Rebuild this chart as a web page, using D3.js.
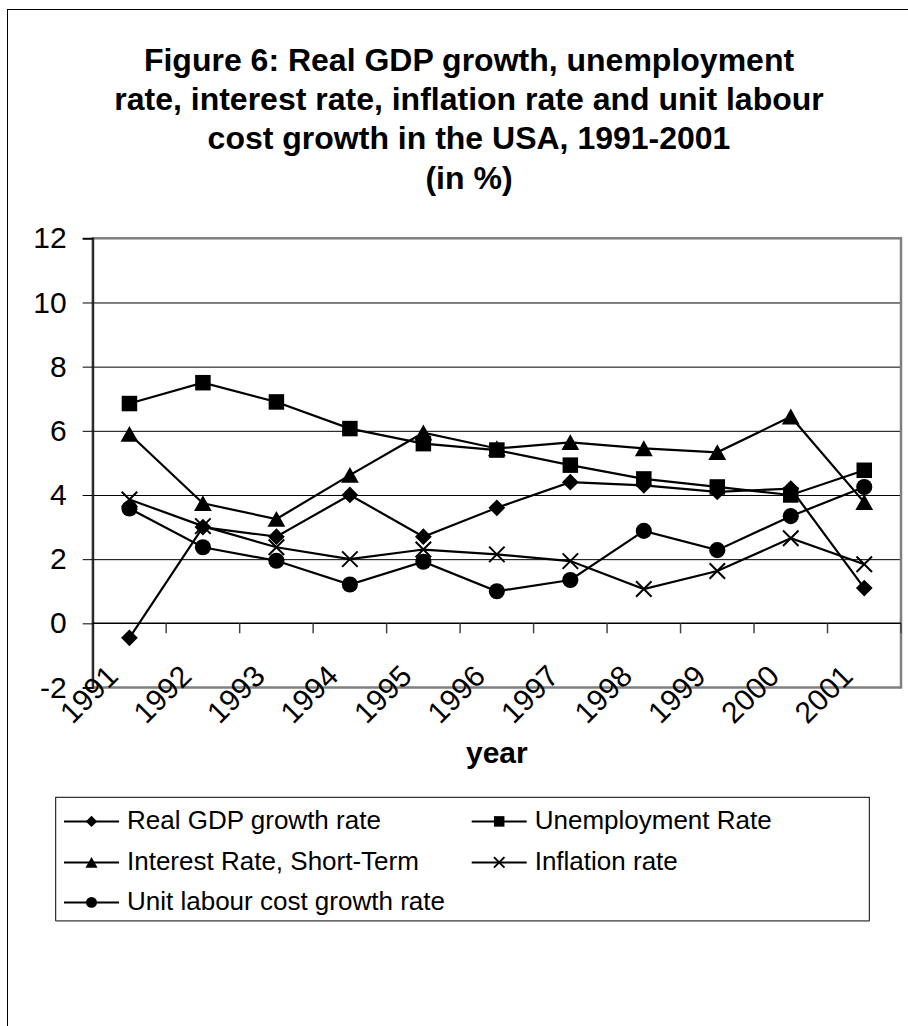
<!DOCTYPE html>
<html><head><meta charset="utf-8">
<script src="https://cdn.jsdelivr.net/npm/d3@7"></script>
<style>
html,body{margin:0;padding:0;background:#fff;}
svg{display:block;font-family:"Liberation Sans",Arial,sans-serif;}
</style></head>
<body>
<svg id="chart" width="908" height="1026"></svg>
<script>
const years = ["1991","1992","1993","1994","1995","1996","1997","1998","1999","2000","2001"];
const gdpGrowth = [-0.45, 3.0, 2.7, 4.0, 2.7, 3.6, 4.4, 4.3, 4.1, 4.2, 1.1];
const unemployment = [6.85, 7.5, 6.9, 6.07, 5.6, 5.4, 4.93, 4.5, 4.25, 4.0, 4.77];
const interestRate = [5.9, 3.74, 3.25, 4.62, 5.94, 5.45, 5.64, 5.45, 5.33, 6.44, 3.77];
const inflation = [3.86, 3.03, 2.37, 2.0, 2.3, 2.15, 1.94, 1.07, 1.63, 2.65, 1.84];
const unitLabourCost = [3.58, 2.37, 1.95, 1.21, 1.92, 1.0, 1.35, 2.88, 2.28, 3.34, 4.25];
const yTicks = [-2, 0, 2, 4, 6, 8, 10, 12];
const titleLines = ["Figure 6: Real GDP growth, unemployment",
                    "rate, interest rate, inflation rate and unit labour",
                    "cost growth in the USA, 1991-2001",
                    "(in %)"];
const seriesNames = ["Real GDP growth rate","Unemployment Rate","Interest Rate, Short-Term","Inflation rate","Unit labour cost growth rate"];
const seriesShapes = ["diamond","square","triangle","cross","circle"];
const seriesValues = [gdpGrowth, unemployment, interestRate, inflation, unitLabourCost];

const svg = d3.select("#chart");
const L = 92.7, R = 901, T = 238.3, B = 687.5;

// outer frame
svg.append("rect").attr("x",7.5).attr("y",9.5).attr("width",1000).attr("height",1100)
  .attr("fill","none").attr("stroke","#000").attr("stroke-width",1);

// title
svg.append("g").selectAll("text").data(titleLines).join("text")
  .attr("x",469).attr("y",(d,i)=>70.5+i*39.4)
  .attr("text-anchor","middle").attr("font-weight","bold").attr("font-size",32)
  .attr("fill","#000").text(d=>d);

const x = d3.scaleBand().domain(years).range([L,R]).paddingInner(0).paddingOuter(0);
const y = d3.scaleLinear().domain([-2,12]).range([B,T]);
const cx = d => x(d) + x.bandwidth()/2;

// gridlines
const grid = svg.append("g").attr("transform",`translate(${L},0)`)
  .call(d3.axisLeft(y).tickValues(yTicks.filter(v=>v>0 && v<12)).tickSize(-(R-L)).tickFormat(""));
grid.select(".domain").remove();
grid.selectAll("line").attr("stroke","#000").attr("stroke-width",1);

// plot border
svg.append("rect").attr("x",L).attr("y",T).attr("width",R-L).attr("height",B-T)
  .attr("fill","none").attr("stroke","#808080").attr("stroke-width",2.5);

// y axis
const yAx = svg.append("g").attr("transform",`translate(${L},0)`)
  .call(d3.axisLeft(y).tickValues(yTicks).tickSize(10).tickPadding(16).tickFormat(d=>String(d)));
yAx.select(".domain").attr("stroke","#222").attr("stroke-width",2);
yAx.selectAll("line").attr("stroke","#000").attr("stroke-width",1);
yAx.selectAll("text").attr("font-size",30).attr("fill","#000")
  .attr("font-family","'Liberation Sans',Arial,sans-serif");

// x axis line at 0 with ticks at boundaries
const boundaries = years.map(d=>x(d)).concat([R]);
const xAx = svg.append("g");
xAx.append("line").attr("x1",L).attr("x2",R).attr("y1",y(0)).attr("y2",y(0))
  .attr("stroke","#000").attr("stroke-width",1.5);
xAx.selectAll("line.tk").data(boundaries.slice(1)).join("line").attr("class","tk")
  .attr("x1",d=>d).attr("x2",d=>d).attr("y1",y(0)).attr("y2",y(0)+10)
  .attr("stroke","#444").attr("stroke-width",1.5);

// x labels rotated
svg.append("g").selectAll("text").data(years).join("text")
  .attr("transform",d=>`translate(${x(d)-4},${694}) rotate(-45)`)
  .attr("text-anchor","middle").attr("dy","0.35em").attr("font-size",30).attr("fill","#000")
  .text(d=>d);

// axis title
svg.append("text").attr("x",(L+R)/2).attr("y",763).attr("text-anchor","middle")
  .attr("font-weight","bold").attr("font-size",30).attr("fill","#000").text("year");

// markers
function drawMarker(g, shape, s){
  const h = s/2;
  if(shape==="diamond") g.append("path").attr("d",`M0,${-h*1.08}L${h*1.08},0L0,${h*1.08}L${-h*1.08},0Z`).attr("fill","#000");
  else if(shape==="square") g.append("rect").attr("x",-h).attr("y",-h).attr("width",s).attr("height",s).attr("fill","#000");
  else if(shape==="triangle") g.append("path").attr("d",`M0,${-h*1.05}L${h*1.15},${h*1.0}L${-h*1.15},${h*1.0}Z`).attr("fill","#000");
  else if(shape==="circle") g.append("circle").attr("r",h*1.04).attr("fill","#000");
  else if(shape==="cross") g.append("path").attr("d",`M${-h},${-h}L${h},${h}M${-h},${h}L${h},${-h}`)
      .attr("stroke","#000").attr("stroke-width",2).attr("fill","none");
}

const line = d3.line().x((d,i)=>cx(years[i])).y(d=>y(d));
seriesValues.forEach((vals,si)=>{
  const g = svg.append("g");
  g.append("path").attr("d",line(vals)).attr("fill","none").attr("stroke","#000").attr("stroke-width",2.2);
  vals.forEach((v,i)=>{
    const m = g.append("g").attr("transform",`translate(${cx(years[i])},${y(v)})`);
    drawMarker(m, seriesShapes[si], 15.5);
  });
});

// legend
const lg = svg.append("g");
lg.append("rect").attr("x",55.7).attr("y",797.3).attr("width",813.6).attr("height",123.4)
  .attr("fill","#fff").attr("stroke","#000").attr("stroke-width",1);
lg.append("line").attr("x1",55.7).attr("x2",869.3).attr("y1",921).attr("y2",921)
  .attr("stroke","#808080").attr("stroke-width",1.5);
const legPos = [[64,829],[471.7,829],[64,870],[471.7,870],[64,910]];
seriesNames.forEach((name,i)=>{
  const [lx,by] = legPos[i];
  const my = by - 7.6;
  const g = lg.append("g");
  g.append("line").attr("x1",lx).attr("x2",lx+55).attr("y1",my).attr("y2",my)
    .attr("stroke","#000").attr("stroke-width",2);
  const m = g.append("g").attr("transform",`translate(${lx+27.5},${my})`);
  drawMarker(m, seriesShapes[i], 10.5);
  g.append("text").attr("x",lx+63).attr("y",by).attr("font-size",26).attr("fill","#000").text(name);
});
</script>
</body></html>
